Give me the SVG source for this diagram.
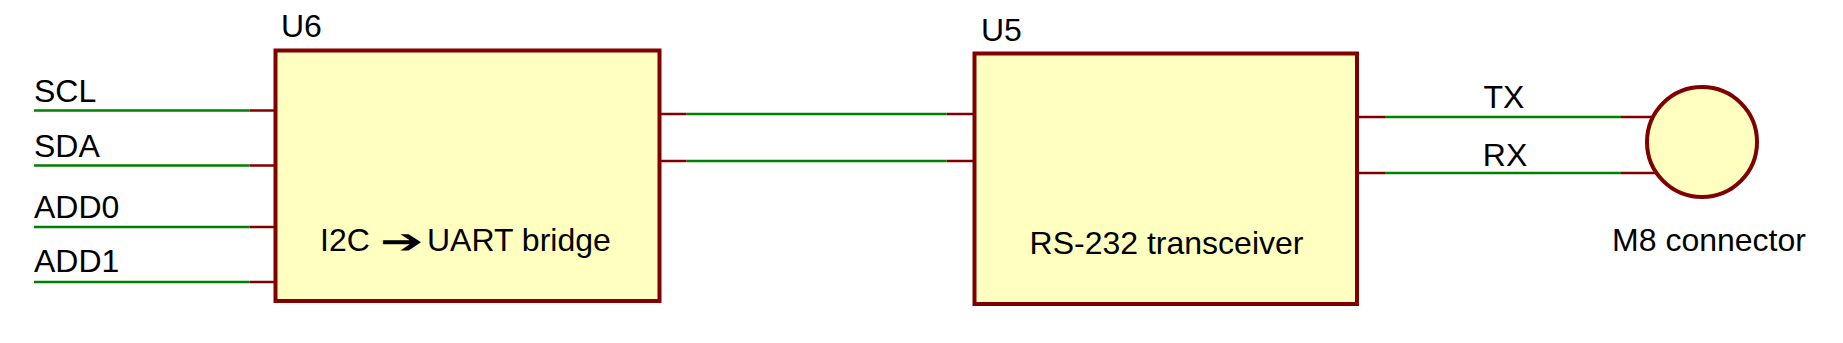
<svg xmlns="http://www.w3.org/2000/svg" width="1843" height="343" viewBox="0 0 1843 343">
<style>
.box{fill:#FFFFC0;stroke:#800000;stroke-width:4}
.pin{stroke:#800000;stroke-width:2.5;fill:none}
.wire{stroke:#008000;stroke-width:2.5;fill:none}
.t{font-family:"Liberation Sans",Arial,sans-serif;font-size:32px;fill:#000}
.m{text-anchor:middle}
</style>
<rect width="1843" height="343" fill="#fff"/>
<g id="connectors">
  <line class="wire" x1="34" y1="110.5" x2="249.5" y2="110.5"/>
  <line class="pin" x1="249.5" y1="110.5" x2="274" y2="110.5"/>
  <line class="wire" x1="34" y1="165.5" x2="249.5" y2="165.5"/>
  <line class="pin" x1="249.5" y1="165.5" x2="274" y2="165.5"/>
  <line class="wire" x1="34" y1="227" x2="249.5" y2="227"/>
  <line class="pin" x1="249.5" y1="227" x2="274" y2="227"/>
  <line class="wire" x1="34" y1="282" x2="249.5" y2="282"/>
  <line class="pin" x1="249.5" y1="282" x2="274" y2="282"/>
  <line class="pin" x1="661" y1="114" x2="686.7" y2="114"/>
  <line class="wire" x1="686.7" y1="114" x2="946.7" y2="114"/>
  <line class="pin" x1="946.7" y1="114" x2="973" y2="114"/>
  <line class="pin" x1="661" y1="161" x2="686.7" y2="161"/>
  <line class="wire" x1="686.7" y1="161" x2="946.7" y2="161"/>
  <line class="pin" x1="946.7" y1="161" x2="973" y2="161"/>
  <line class="pin" x1="1358" y1="117" x2="1385" y2="117"/>
  <line class="wire" x1="1385" y1="117" x2="1621" y2="117"/>
  <line class="pin" x1="1621" y1="117" x2="1655" y2="117"/>
  <line class="pin" x1="1358" y1="173" x2="1385" y2="173"/>
  <line class="wire" x1="1385" y1="173" x2="1621" y2="173"/>
  <line class="pin" x1="1621" y1="173" x2="1658" y2="173"/>
  <text class="t" x="34" y="101.7">SCL</text>
  <text class="t" x="34" y="157.3">SDA</text>
  <text class="t" x="34" y="217.7">ADD0</text>
  <text class="t" x="34" y="272.3">ADD1</text>
  <text class="t m" x="1504" y="107.7">TX</text>
  <text class="t m" x="1505" y="165.7">RX</text>
</g>
<g id="U6">
  <rect class="box" x="275.5" y="50.5" width="384" height="250.5"/>
  <text class="t" x="281" y="37.3">U6</text>
  <text class="t" x="320" y="251">I2C</text>
  <text class="t" transform="translate(380,253) scale(1.6,1.05)" x="0" y="0" font-family="DejaVu Sans, sans-serif" font-size="38">➔</text>
  <text class="t" x="427" y="251">UART bridge</text>
</g>
<g id="U5">
  <rect class="box" x="974.5" y="53.5" width="382.5" height="250.5"/>
  <text class="t" x="981" y="40.7">U5</text>
  <text class="t m" x="1166.5" y="254.3">RS-232 transceiver</text>
</g>
<g id="M8">
  <circle class="box" cx="1702" cy="142" r="55"/>
  <text class="t m" x="1709" y="250.7">M8 connector</text>
</g>
</svg>
